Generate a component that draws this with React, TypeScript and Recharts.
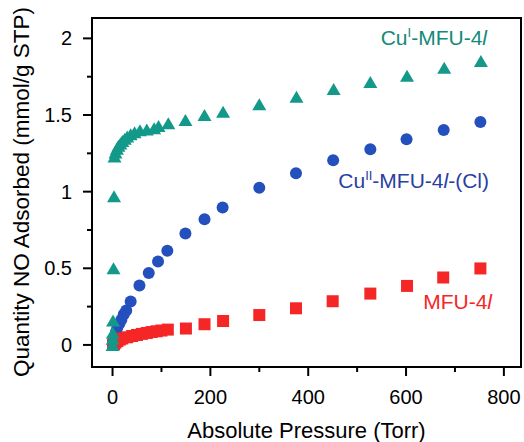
import { ScatterChart, Scatter, XAxis, YAxis, ReferenceArea, Label } from 'recharts';

const X_TICKS = [0, 100, 200, 300, 400, 500, 600, 700, 800];
const Y_TICKS = [0, 0.25, 0.5, 0.75, 1, 1.25, 1.5, 1.75, 2];
const X_DOMAIN = [-42, 835];
const Y_DOMAIN = [-0.144, 2.133];

// MFU-4l
const mfuPressure = [1, 3, 6, 10, 15, 20, 30, 40, 50, 60, 70, 80, 90, 100, 113, 150, 188, 226, 300, 375, 450, 527, 602, 676, 752];
const mfuUptake = [0.0, 0.005, 0.015, 0.025, 0.035, 0.042, 0.05, 0.058, 0.065, 0.072, 0.078, 0.084, 0.089, 0.094, 0.1, 0.107, 0.135, 0.156, 0.195, 0.239, 0.285, 0.335, 0.385, 0.44, 0.499];

// Cu(II)-MFU-4l-(Cl)
const cuIIPressure = [0.5, 2, 4, 7, 10, 14, 18, 23, 28, 37, 55, 74, 93, 112, 149, 188, 225, 300, 375, 451, 527, 601, 677, 752];
const cuIIUptake = [0.0, 0.02, 0.05, 0.085, 0.115, 0.14, 0.165, 0.2, 0.225, 0.283, 0.388, 0.47, 0.544, 0.614, 0.727, 0.82, 0.897, 1.026, 1.12, 1.205, 1.277, 1.342, 1.403, 1.455];

// Cu(I)-MFU-4l
const cuIPressure = [0.1, 0.3, 0.6, 1, 2, 3, 4, 6, 9, 12, 16, 20, 25, 30, 37, 45, 56, 70, 85, 94, 114, 149, 188, 226, 300, 376, 452, 527, 602, 678, 753];
const cuIUptake = [0.0, 0.04, 0.08, 0.16, 0.5, 0.97, 1.23, 1.255, 1.28, 1.3, 1.315, 1.33, 1.345, 1.36, 1.375, 1.387, 1.4, 1.405, 1.414, 1.429, 1.446, 1.468, 1.5, 1.522, 1.57, 1.62, 1.669, 1.716, 1.757, 1.808, 1.853];

const TEAL = '#12998a';
const BLUE = '#2450be';
const RED = '#f52626';

const toPoints = (p: number[], q: number[]) => p.map((x, i) => ({ p: x, q: q[i] }));

const Square = (props: any) => (
  <rect x={props.cx - 6} y={props.cy - 6} width={12} height={12} fill={RED} />
);
const Circle = (props: any) => <circle cx={props.cx} cy={props.cy} r={6} fill={BLUE} />;
const Triangle = (props: any) => {
  const { cx, cy } = props;
  return <polygon points={`${cx},${cy - 6} ${cx - 7},${cy + 6} ${cx + 7},${cy + 6}`} fill={TEAL} />;
};

const XTick = ({ x, y, payload }: any) => {
  const major = payload.value % 200 === 0;
  return (
    <g>
      <line x1={x} x2={x} y1={y} y2={y + (major ? 9 : 5)} stroke="#000" strokeWidth={2} />
      {major && (
        <text x={x} y={y + 37} textAnchor="middle" fontSize={20} fill="#000">
          {payload.value}
        </text>
      )}
    </g>
  );
};

const YTick = ({ x, y, payload }: any) => {
  const major = (payload.value * 2) % 1 === 0;
  return (
    <g>
      <line x1={x} x2={x - (major ? 9 : 5)} y1={y} y2={y} stroke="#000" strokeWidth={2} />
      {major && (
        <text x={x - 20} y={y + 7} textAnchor="end" fontSize={20} fill="#000">
          {payload.value}
        </text>
      )}
    </g>
  );
};

const YTitle = ({ viewBox }: any) => {
  const x = viewBox.x + 28.5;
  const y = 192;
  return (
    <text x={x} y={y} transform={`rotate(-90, ${x}, ${y})`} textAnchor="middle" fontSize={22.5} fill="#000">
      Quantity NO Adsorbed (mmol/g STP)
    </text>
  );
};

const sup = { fontSize: '0.62em', verticalAlign: '0.6em', lineHeight: 0 };

const labelBase = {
  position: 'absolute' as const,
  whiteSpace: 'nowrap' as const,
  fontSize: 21,
  lineHeight: '25px',
  fontFamily: '"Liberation Sans", Arial, sans-serif',
};

export default function App() {
  return (
    <div style={{ position: 'absolute', left: 0, top: 0, width: 524, height: 442, background: '#fff', fontFamily: '"Liberation Sans", Arial, sans-serif' }}>
      <ScatterChart width={524} height={442} margin={{ top: 18, right: 3, bottom: 0, left: 0 }}>
        <XAxis
          type="number"
          dataKey="p"
          domain={X_DOMAIN}
          allowDataOverflow
          ticks={X_TICKS}
          interval={0}
          height={75}
          tickSize={0}
          tickMargin={0}
          tickLine={false}
          axisLine={{ stroke: '#000', strokeWidth: 2 }}
          tick={<XTick />}
        >
          <Label value="Absolute Pressure (Torr)" position="insideBottom" offset={4} fontSize={22} fill="#000" />
        </XAxis>
        <YAxis
          type="number"
          dataKey="q"
          domain={Y_DOMAIN}
          allowDataOverflow
          ticks={Y_TICKS}
          interval={0}
          width={92}
          tickSize={0}
          tickMargin={0}
          tickLine={false}
          axisLine={{ stroke: '#000', strokeWidth: 2 }}
          tick={<YTick />}
          label={<YTitle />}
        />
        <ReferenceArea
          x1={X_DOMAIN[0]}
          x2={X_DOMAIN[1]}
          y1={Y_DOMAIN[0]}
          y2={Y_DOMAIN[1]}
          fill="none"
          fillOpacity={0}
          stroke="#000"
          strokeWidth={2}
        />
        <Scatter data={toPoints(cuIIPressure, cuIIUptake)} shape={Circle} isAnimationActive={false} />
        <Scatter data={toPoints(mfuPressure, mfuUptake)} shape={Square} isAnimationActive={false} />
        <Scatter data={toPoints(cuIPressure, cuIUptake)} shape={Triangle} isAnimationActive={false} />
      </ScatterChart>
      <div style={{ ...labelBase, right: 524 - 487, top: 37 - 12.5, color: '#138a78' }}>
        Cu<sup style={sup}>I</sup>-MFU-4<i>l</i>
      </div>
      <div style={{ ...labelBase, right: 524 - 489, top: 180 - 12.5, color: '#2b3fa3' }}>
        Cu<sup style={sup}>II</sup>-MFU-4<i>l</i>-(Cl)
      </div>
      <div style={{ ...labelBase, right: 524 - 492, top: 301 - 12.5, color: RED }}>
        MFU-4<i>l</i>
      </div>
    </div>
  );
}
